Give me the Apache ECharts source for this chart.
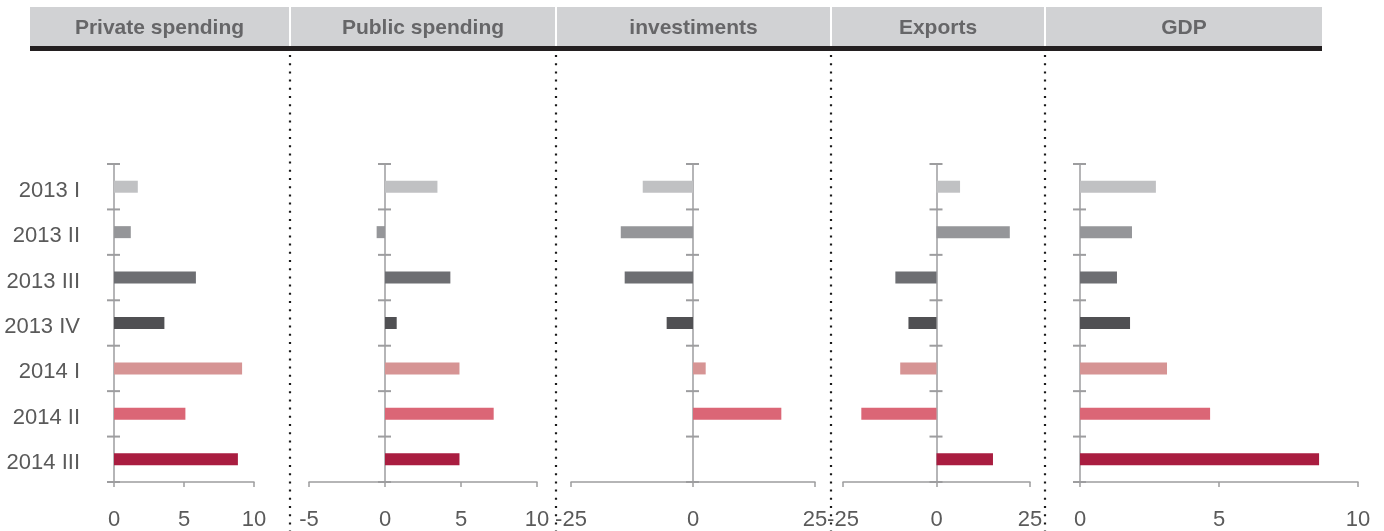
<!DOCTYPE html>
<html><head><meta charset="utf-8">
<script src="https://cdn.jsdelivr.net/npm/echarts@6/dist/echarts.min.js"></script>
<style>html,body{margin:0;padding:0;background:#fff}#c{width:1384px;height:531px}</style>
</head><body><div id="c"></div>
<script>
// ---- data ----
const categories = ['2013 I','2013 II','2013 III','2013 IV','2014 I','2014 II','2014 III'];
const panelTitles = ['Private spending','Public spending','investiments','Exports','GDP'];
const privateSpending = [1.7, 1.2, 5.85, 3.6, 9.15, 5.1, 8.85];
const publicSpending  = [3.45, -0.55, 4.3, 0.77, 4.9, 7.15, 4.9];
const investments     = [-10.3, -14.8, -14.0, -5.4, 2.6, 18.1, 0];
const exportsData     = [6.3, 19.6, -11.0, -7.5, -9.7, -20.1, 15.1];
const gdp             = [2.73, 1.87, 1.33, 1.8, 3.13, 4.68, 8.6];
const axisMin      = [0, -5, -25, -25, 0];
const axisMax      = [10, 10, 25, 25, 10];
const axisInterval = [5, 5, 25, 25, 5];

// ---- styles / layout ----
const barColors = ['#c0c1c3','#959699','#6d6e72','#505053','#d69494','#db6676','#a91d40'];
const seriesData = [privateSpending, publicSpending, investments, exportsData, gdp];
const gridLeft  = [114, 309, 571, 843, 1080];
const gridWidth = [140, 228, 244, 187, 278];
const headerSeg = [[30,289],[291,555],[557,830],[832,1044],[1046,1322]];
const sepX = [290, 556, 831, 1045];
const FONT = '"Liberation Sans", Arial, sans-serif';
const axisGray = '#9d9d9f';
const textGray = '#5a5a5a';

const chart = echarts.init(document.getElementById('c'), null, {renderer: 'canvas'});

const grid = [], xAxis = [], yAxis = [], series = [];
for (let p = 0; p < 5; p++) {
  grid.push({left: gridLeft[p], width: gridWidth[p], top: 164, height: 318, containLabel: false});
  xAxis.push({
    type: 'value', gridIndex: p, min: axisMin[p], max: axisMax[p], interval: axisInterval[p],
    splitLine: {show: false},
    axisLine: {show: true, lineStyle: {color: axisGray, width: 1.5}},
    axisTick: {show: true, length: 5, lineStyle: {color: axisGray, width: 1.5}},
    axisLabel: {fontSize: 22, color: textGray, fontFamily: FONT, margin: 27}
  });
  yAxis.push({
    type: 'category', gridIndex: p, data: categories, inverse: true,
    axisLine: {show: true, onZero: true, lineStyle: {color: axisGray, width: 1.5}},
    axisTick: {show: false},
    axisLabel: {show: p === 0, fontSize: 22, color: textGray, fontFamily: FONT, margin: 34,
                verticalAlign: 'top', lineHeight: 8}
  });
  series.push({
    type: 'bar', xAxisIndex: p, yAxisIndex: p, barWidth: 12, silent: true,
    data: seriesData[p].map((v, i) => ({value: v, itemStyle: {color: barColors[i]}}))
  });
  // crossing category ticks at band boundaries
  series.push({
    type: 'custom', xAxisIndex: p, yAxisIndex: p, silent: true, clip: false, z: 5,
    data: categories.map((c, i) => [0, i]),
    renderItem: function (params, api) {
      const i = api.value(1);
      const pt = api.coord([0, i]);
      const bw = api.size([0, 1])[1];
      const children = [];
      const ys = [pt[1] - bw / 2];
      if (i === categories.length - 1) ys.push(pt[1] + bw / 2);
      ys.forEach(y => children.push({
        type: 'line', shape: {x1: pt[0] - 7, y1: y, x2: pt[0] + 6, y2: y},
        style: {stroke: axisGray, lineWidth: 2}
      }));
      return {type: 'group', children: children};
    }
  });
}

const graphic = [];
graphic.push({type: 'rect', left: 30, top: 7, shape: {width: 1292, height: 39}, style: {fill: '#d1d2d4'}, z: 1});
headerSeg.forEach((s, i) => {
  graphic.push({type: 'text', x: (s[0] + s[1]) / 2, y: 28, z: 3,
    style: {text: panelTitles[i], fill: '#666668', font: 'bold 21px ' + FONT, textAlign: 'center', textVerticalAlign: 'middle'}});
});
sepX.forEach(x => {
  graphic.push({type: 'rect', left: x - 1, top: 7, shape: {width: 2, height: 39}, style: {fill: '#ffffff'}, z: 2});
  graphic.push({type: 'line', shape: {x1: x, y1: 55, x2: x, y2: 531}, z: 2,
    style: {stroke: '#1a1a1a', lineWidth: 2.2, lineDash: [2, 6.2]}});
});
graphic.push({type: 'rect', left: 30, top: 46, shape: {width: 1292, height: 5}, style: {fill: '#231f20'}, z: 2});

chart.setOption({
  animation: false,
  backgroundColor: '#ffffff',
  textStyle: {fontFamily: FONT},
  grid, xAxis, yAxis, series, graphic
});
</script>
</body></html>
